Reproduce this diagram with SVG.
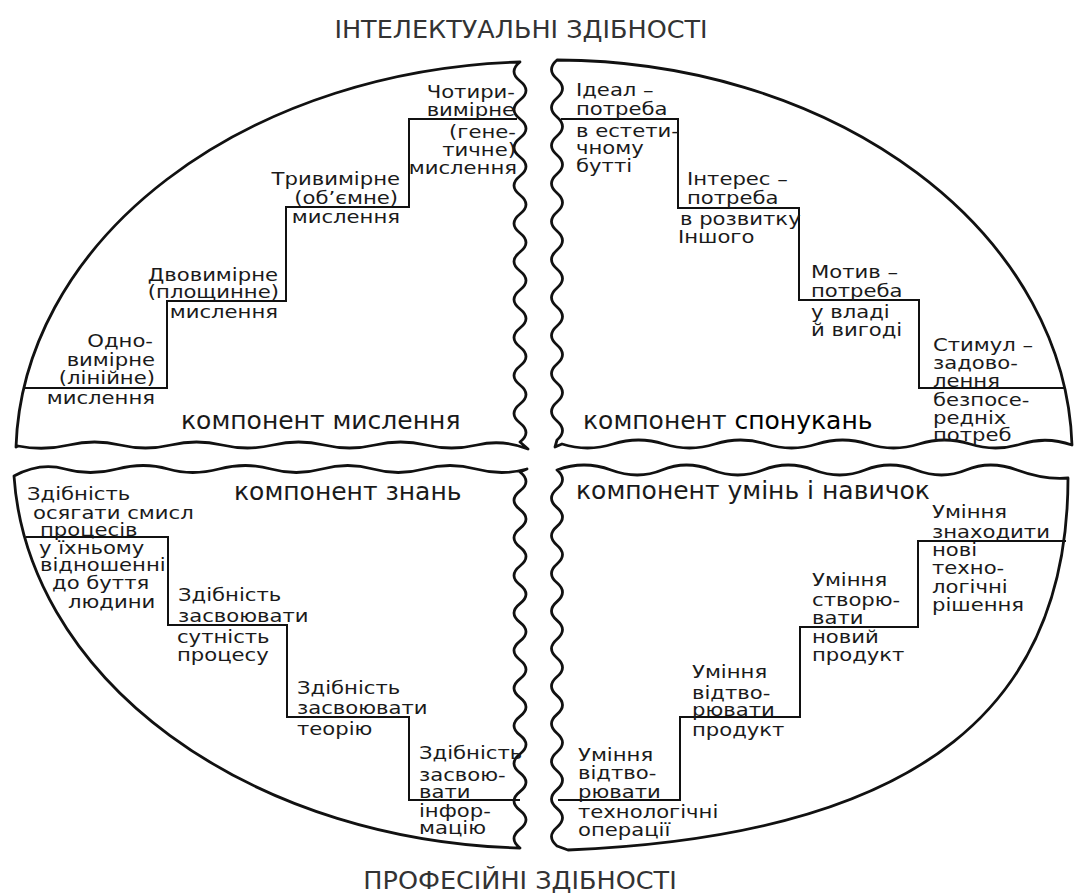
<svg xmlns="http://www.w3.org/2000/svg" width="1075" height="894" viewBox="0 0 1075 894">
<style>
.bg{fill:#fff}
.out{fill:#fff;stroke:#111;stroke-width:2.8;stroke-linejoin:round}
.st{fill:none;stroke:#111;stroke-width:2}
text{font-family:"DejaVu Sans","Liberation Sans",sans-serif;fill:#1a1a1a}
.t{font-size:17.5px;transform-box:fill-box;transform-origin:0 0;transform:scaleX(1.21)}
.t.e{text-anchor:end;transform-origin:100% 0}
.c{font-size:25px}
.h{font-size:25.5px;fill:#333;text-anchor:middle}
.k{fill:#000}
</style>
<rect class="bg" width="1075" height="894"/>
<g id="title-top"><text class="h" x="521" y="38">ІНТЕЛЕКТУАЛЬНІ ЗДІБНОСТІ</text></g>
<g id="title-bottom"><text class="h" x="520" y="889">ПРОФЕСІЙНІ ЗДІБНОСТІ</text></g>

<g id="thinking">
<path class="out" d="M 16,447 A 525 395 0 0 1 520,62 Q 508,71.5 520,81 T 520,100 T 520,119 T 520,138 T 520,157 T 520,176 T 520,195 T 520,214 T 520,233 T 520,252 T 520,271 T 520,290 T 520,309 T 520,328 T 520,347 T 520,366 T 520,385 T 520,404 T 520,423 T 520,442 L 528,449 Q 502.5,439 477,445 T 426,445 T 375,445 T 324,445 T 273,445 T 222,445 T 171,445 T 120,445 T 69,445 T 18,446 Z"/>
<polyline class="st" points="24,388 167,388 167,301 286,301 286,207 409,207 409,119 517,119"/>
<text class="t e" x="153" y="347">Одно-</text>
<text class="t e" x="155" y="366">вимірне</text>
<text class="t e" x="155" y="384">(лінійне)</text>
<text class="t e" x="155" y="404">мислення</text>
<text class="t e" x="278" y="281">Двовимірне</text>
<text class="t e" x="279" y="298">(площинне)</text>
<text class="t e" x="278" y="318">мислення</text>
<text class="t e" x="400" y="185">Тривимірне</text>
<text class="t e" x="398" y="204">(об’ємне)</text>
<text class="t e" x="400" y="223">мислення</text>
<text class="t e" x="515" y="98">Чотири-</text>
<text class="t e" x="515" y="116">вимірне</text>
<text class="t e" x="516" y="138">(гене-</text>
<text class="t e" x="516" y="156">тичне)</text>
<text class="t e" x="517" y="174">мислення</text>
<text class="c" x="181" y="429">компонент мислення</text>
</g>

<g id="motivation">
<path class="out" d="M 557,60 A 517 395 0 0 1 1072,445 Q 1046.5,436 1021,444 T 970,444 T 919,444 T 868,444 T 817,444 T 766,444 T 715,444 T 664,444 T 613,444 T 562,444 L 555,447 L 557,440 Q 568,430.5 557,421 T 557,402 T 557,383 T 557,364 T 557,345 T 557,326 T 557,307 T 557,288 T 557,269 T 557,250 T 557,231 T 557,212 T 557,193 T 557,174 T 557,155 T 557,136 T 557,117 T 557,98 T 557,79 T 557,60 Z"/>
<polyline class="st" points="561,119 678,119 678,208 799,208 799,300 919,300 919,388 1064,388"/>
<text class="t" x="576" y="96">Ідеал –</text>
<text class="t" x="576" y="115">потреба</text>
<text class="t" x="576" y="137">в естети-</text>
<text class="t" x="576" y="154">чному</text>
<text class="t" x="576" y="172">бутті</text>
<text class="t" x="687" y="185">Інтерес –</text>
<text class="t" x="687" y="204">потреба</text>
<text class="t" x="680" y="225">в розвитку</text>
<text class="t" x="678" y="243">Іншого</text>
<text class="t" x="811" y="278">Мотив –</text>
<text class="t" x="811" y="297">потреба</text>
<text class="t" x="811" y="318">у владі</text>
<text class="t" x="811" y="336">й вигоді</text>
<text class="t" x="933" y="351">Стимул –</text>
<text class="t" x="933" y="369">задово-</text>
<text class="t" x="933" y="387">лення</text>
<text class="t" x="933" y="406">безпосе-</text>
<text class="t" x="933" y="424">редніх</text>
<text class="t" x="933" y="441">потреб</text>
<text class="c" x="583" y="429">компонент <tspan class="k">спонукань</tspan></text>
</g>

<g id="knowledge">
<path class="out" d="M 14,476 Q 40,462 65,469 T 117,469 T 168,469 T 219,469 T 271,469 T 322,469 T 373,469 T 424,469 T 476,469 T 527,469 L 520,472 Q 532,481.4 520,490.8 T 520,509.6 T 520,528.4 T 520,547.2 T 520,566 T 520,584.8 T 520,603.6 T 520,622.4 T 520,641.2 T 520,660 T 520,678.8 T 520,697.6 T 520,716.4 T 520,735.2 T 520,754 T 520,772.8 T 520,791.6 T 520,810.4 T 520,829.2 T 520,848 A 525 392 0 0 1 14,476 Z"/>
<polyline class="st" points="26,537 168,537 168,625 287,625 287,717 409,717 409,800 520,800"/>
<text class="c" x="234" y="500">компонент знань</text>
<text class="t" x="27" y="500">Здібність</text>
<text class="t" x="33" y="519">осягати смисл</text>
<text class="t" x="40" y="536">процесів</text>
<text class="t" x="39" y="554">у їхньому</text>
<text class="t" x="40" y="571">відношенні</text>
<text class="t" x="52" y="589">до буття</text>
<text class="t" x="68" y="608">людини</text>
<text class="t" x="178" y="601">Здібність</text>
<text class="t" x="178" y="622">засвоювати</text>
<text class="t" x="177" y="643">сутність</text>
<text class="t" x="177" y="661">процесу</text>
<text class="t" x="297" y="694">Здібність</text>
<text class="t" x="297" y="714">засвоювати</text>
<text class="t" x="297" y="735">теорію</text>
<text class="t" x="419" y="759">Здібність</text>
<text class="t" x="419" y="781">засвою-</text>
<text class="t" x="419" y="798">вати</text>
<text class="t" x="419" y="817">інфор-</text>
<text class="t" x="419" y="834">мацію</text>
</g>

<g id="skills">
<path class="out" d="M 557,470 Q 584,460 611,470 T 662,470 T 712,470 T 763,470 T 814,470 T 865,470 T 916,470 T 966,470 T 1017,470 T 1068,478 C 1068,700 930,835 568,850 L 557,846 Q 546,836.6 557,827.2 T 557,808.4 T 557,789.6 T 557,770.8 T 557,752 T 557,733.2 T 557,714.4 T 557,695.6 T 557,676.8 T 557,658 T 557,639.2 T 557,620.4 T 557,601.6 T 557,582.8 T 557,564 T 557,545.2 T 557,526.4 T 557,507.6 T 557,488.8 T 557,470 Z"/>
<polyline class="st" points="558,800 680,800 680,717 800,717 800,627 918,627 918,541 1066,541"/>
<text class="c" x="576" y="499">компонент умінь і навичок</text>
<text class="t" x="932" y="518">Уміння</text>
<text class="t" x="932" y="538">знаходити</text>
<text class="t" x="932" y="556">нові</text>
<text class="t" x="932" y="574">техно-</text>
<text class="t" x="932" y="593">логічні</text>
<text class="t" x="932" y="611">рішення</text>
<text class="t" x="812" y="586">Уміння</text>
<text class="t" x="812" y="606">створю-</text>
<text class="t" x="812" y="624">вати</text>
<text class="t" x="812" y="643">новий</text>
<text class="t" x="812" y="661">продукт</text>
<text class="t" x="692" y="678">Уміння</text>
<text class="t" x="692" y="699">відтво-</text>
<text class="t" x="692" y="716">рювати</text>
<text class="t" x="692" y="736">продукт</text>
<text class="t" x="578" y="761">Уміння</text>
<text class="t" x="578" y="779">відтво-</text>
<text class="t" x="578" y="798">рювати</text>
<text class="t" x="578" y="818">технологічні</text>
<text class="t" x="578" y="836">операції</text>
</g>
</svg>
